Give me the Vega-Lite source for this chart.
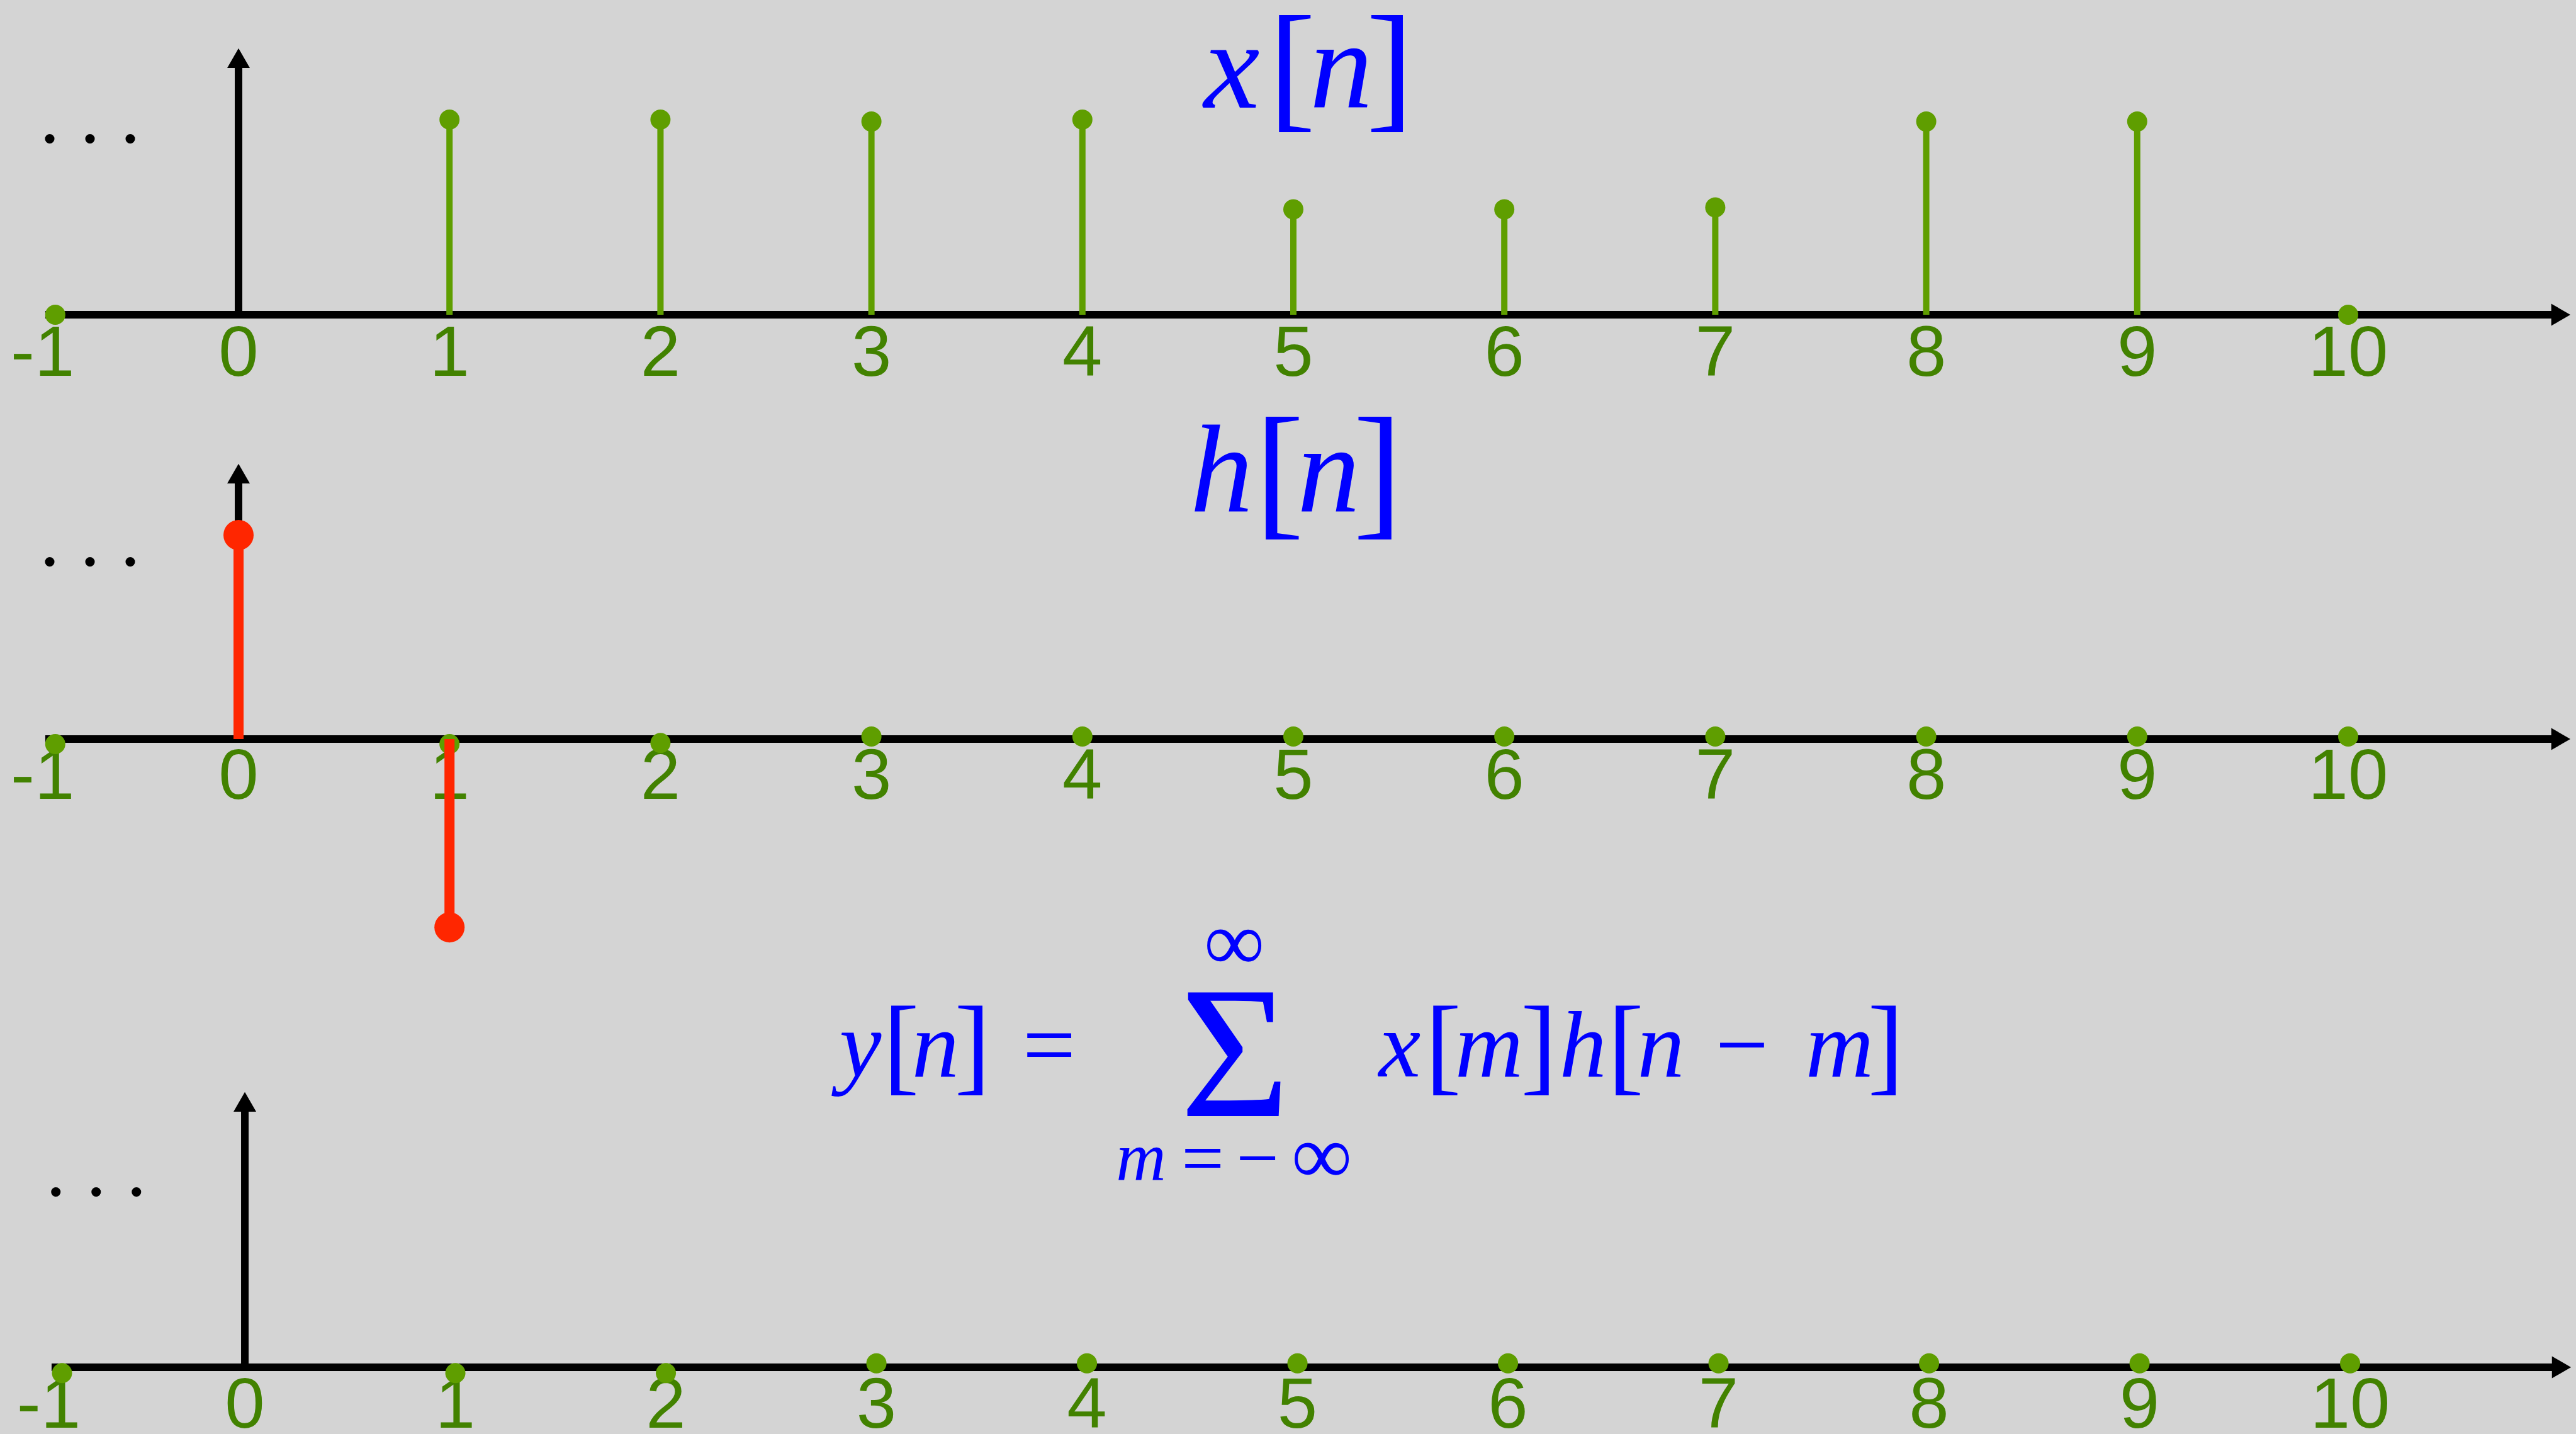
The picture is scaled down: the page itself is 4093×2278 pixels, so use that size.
{
  "$schema": "https://vega.github.io/schema/vega-lite/v6.json",
  "background": "#d4d4d4",
  "padding": 0,
  "spacing": 0,
  "bounds": "flush",
  "config": {"view": {"stroke": null}, "axis": {"disable": true}},
  "datasets": {
    "ticks": [
      {"n": -1, "lab": "-1"}, {"n": 0, "lab": "0"}, {"n": 1, "lab": "1"}, {"n": 2, "lab": "2"},
      {"n": 3, "lab": "3"}, {"n": 4, "lab": "4"}, {"n": 5, "lab": "5"}, {"n": 6, "lab": "6"},
      {"n": 7, "lab": "7"}, {"n": 8, "lab": "8"}, {"n": 9, "lab": "9"}, {"n": 10, "lab": "10"}
    ],
    "xs": [
      {"n": -1, "v": 0}, {"n": 1, "v": 1.0}, {"n": 2, "v": 1.0}, {"n": 3, "v": 0.99},
      {"n": 4, "v": 1.0}, {"n": 5, "v": 0.54}, {"n": 6, "v": 0.54}, {"n": 7, "v": 0.55},
      {"n": 8, "v": 0.99}, {"n": 9, "v": 0.99}, {"n": 10, "v": 0}
    ],
    "hs": [
      {"n": 0, "v": 1.045}, {"n": 1, "v": -0.965}
    ],
    "hzero": [
      {"n": -1, "v": -0.026}, {"n": 1, "v": -0.026}, {"n": 2, "v": -0.02}, {"n": 3, "v": 0.013},
      {"n": 4, "v": 0.013}, {"n": 5, "v": 0.013}, {"n": 6, "v": 0.013}, {"n": 7, "v": 0.013},
      {"n": 8, "v": 0.013}, {"n": 9, "v": 0.013}, {"n": 10, "v": 0.013}
    ],
    "ys": [
      {"n": -1, "v": -0.03}, {"n": 1, "v": -0.03}, {"n": 2, "v": -0.03}, {"n": 3, "v": 0.02},
      {"n": 4, "v": 0.02}, {"n": 5, "v": 0.02}, {"n": 6, "v": 0.02}, {"n": 7, "v": 0.02},
      {"n": 8, "v": 0.02}, {"n": 9, "v": 0.02}, {"n": 10, "v": 0.02}
    ]
  },
  "vconcat": [
    {
      "width": 4093,
      "height": 650,
      "data": {"values": [{}]},
      "layer": [
        {"mark": {"type": "rule", "color": "#000000", "strokeWidth": 12},
         "encoding": {
           "x": {"datum": -0.916, "type": "quantitative", "scale": {"domain": [-1.1307, 11.08], "nice": false, "zero": false}, "axis": null},
           "x2": {"datum": 11.008},
           "y": {"datum": 0, "type": "quantitative", "scale": {"domain": [-0.4839, 1.6129], "nice": false, "zero": false}, "axis": null}}},
        {"mark": {"type": "point", "shape": "triangle-right", "filled": true, "size": 1225, "color": "#000000", "opacity": 1, "strokeWidth": 0},
         "encoding": {"x": {"datum": 11.008, "axis": null}, "y": {"datum": 0, "axis": null}}},
        {"mark": {"type": "rule", "color": "#000000", "strokeWidth": 12},
         "encoding": {"x": {"datum": 0, "axis": null}, "y": {"datum": 0, "axis": null}, "y2": {"datum": 1.315}}},
        {"mark": {"type": "point", "shape": "triangle-up", "filled": true, "size": 1296, "color": "#000000", "opacity": 1, "strokeWidth": 0},
         "encoding": {"x": {"datum": 0, "axis": null}, "y": {"datum": 1.315, "axis": null}}},
        {"mark": {"type": "text", "text": ". . .", "font": "Liberation Serif", "fontSize": 128, "color": "#000000", "align": "center", "baseline": "alphabetic"},
         "encoding": {"x": {"datum": -0.704, "axis": null}, "y": {"datum": 0.884, "axis": null}}},
        {"data": {"name": "ticks"}, "transform": [{"filter": "datum.n >= 0"}],
         "mark": {"type": "text", "font": "Liberation Sans", "fontSize": 114, "color": "#428200", "align": "center", "baseline": "alphabetic"},
         "encoding": {"x": {"field": "n", "type": "quantitative", "axis": null}, "y": {"datum": -0.313, "axis": null}, "text": {"field": "lab"}}},
        {"data": {"name": "ticks"}, "transform": [{"filter": "datum.n < 0"}],
         "mark": {"type": "text", "font": "Liberation Sans", "fontSize": 114, "color": "#428200", "align": "center", "baseline": "alphabetic", "dx": 24},
         "encoding": {"x": {"field": "n", "type": "quantitative", "axis": null}, "y": {"datum": -0.313, "axis": null}, "text": {"field": "lab"}}},
        {"data": {"name": "xs"},
         "mark": {"type": "rule", "color": "#5f9e00", "strokeWidth": 10},
         "encoding": {"x": {"field": "n", "type": "quantitative", "axis": null}, "y": {"field": "v", "type": "quantitative", "axis": null}, "y2": {"datum": 0}}},
        {"data": {"name": "xs"}, "transform": [{"filter": "datum.n >= 0"}],
         "mark": {"type": "circle", "size": 1024, "color": "#5f9e00", "opacity": 1},
         "encoding": {"x": {"field": "n", "type": "quantitative", "axis": null}, "y": {"field": "v", "type": "quantitative", "axis": null}}},
        {"data": {"name": "xs"}, "transform": [{"filter": "datum.n < 0"}],
         "mark": {"type": "circle", "size": 1024, "color": "#5f9e00", "opacity": 1, "xOffset": 44},
         "encoding": {"x": {"field": "n", "type": "quantitative", "axis": null}, "y": {"field": "v", "type": "quantitative", "axis": null}}},
        {"mark": {"type": "text", "text": "x", "font": "Liberation Serif", "fontStyle": "italic", "fontSize": 200, "color": "#0000ff", "align": "center", "baseline": "alphabetic"},
         "encoding": {"x": {"datum": 4.708, "axis": null}, "y": {"datum": 1.061, "axis": null}}},
        {"mark": {"type": "text", "text": "[", "font": "Liberation Serif", "fontSize": 225, "color": "#0000ff", "align": "center", "baseline": "alphabetic"},
         "encoding": {"x": {"datum": 4.994, "axis": null}, "y": {"datum": 1.032, "axis": null}}},
        {"mark": {"type": "text", "text": "n", "font": "Liberation Serif", "fontStyle": "italic", "fontSize": 200, "color": "#0000ff", "align": "center", "baseline": "alphabetic"},
         "encoding": {"x": {"datum": 5.227, "axis": null}, "y": {"datum": 1.061, "axis": null}}},
        {"mark": {"type": "text", "text": "]", "font": "Liberation Serif", "fontSize": 225, "color": "#0000ff", "align": "center", "baseline": "alphabetic"},
         "encoding": {"x": {"datum": 5.457, "axis": null}, "y": {"datum": 1.032, "axis": null}}}
      ]
    },
    {
      "width": 4093,
      "height": 880,
      "data": {"values": [{}]},
      "layer": [
        {"mark": {"type": "rule", "color": "#000000", "strokeWidth": 12},
         "encoding": {
           "x": {"datum": -0.916, "type": "quantitative", "scale": {"domain": [-1.1307, 11.08], "nice": false, "zero": false}, "axis": null},
           "x2": {"datum": 11.008},
           "y": {"datum": 0, "type": "quantitative", "scale": {"domain": [-1.1484, 1.6903], "nice": false, "zero": false}, "axis": null}}},
        {"mark": {"type": "point", "shape": "triangle-right", "filled": true, "size": 1225, "color": "#000000", "opacity": 1, "strokeWidth": 0},
         "encoding": {"x": {"datum": 11.008, "axis": null}, "y": {"datum": 0, "axis": null}}},
        {"mark": {"type": "rule", "color": "#000000", "strokeWidth": 12},
         "encoding": {"x": {"datum": 0, "axis": null}, "y": {"datum": 0, "axis": null}, "y2": {"datum": 1.36}}},
        {"mark": {"type": "point", "shape": "triangle-up", "filled": true, "size": 1296, "color": "#000000", "opacity": 1, "strokeWidth": 0},
         "encoding": {"x": {"datum": 0, "axis": null}, "y": {"datum": 1.36, "axis": null}}},
        {"mark": {"type": "text", "text": ". . .", "font": "Liberation Serif", "fontSize": 128, "color": "#000000", "align": "center", "baseline": "alphabetic"},
         "encoding": {"x": {"datum": -0.704, "axis": null}, "y": {"datum": 0.89, "axis": null}}},
        {"data": {"name": "ticks"}, "transform": [{"filter": "datum.n >= 0"}],
         "mark": {"type": "text", "font": "Liberation Sans", "fontSize": 114, "color": "#428200", "align": "center", "baseline": "alphabetic"},
         "encoding": {"x": {"field": "n", "type": "quantitative", "axis": null}, "y": {"datum": -0.306, "axis": null}, "text": {"field": "lab"}}},
        {"data": {"name": "ticks"}, "transform": [{"filter": "datum.n < 0"}],
         "mark": {"type": "text", "font": "Liberation Sans", "fontSize": 114, "color": "#428200", "align": "center", "baseline": "alphabetic", "dx": 24},
         "encoding": {"x": {"field": "n", "type": "quantitative", "axis": null}, "y": {"datum": -0.306, "axis": null}, "text": {"field": "lab"}}},
        {"data": {"name": "hzero"}, "transform": [{"filter": "datum.n >= 0"}],
         "mark": {"type": "circle", "size": 1024, "color": "#5f9e00", "opacity": 1},
         "encoding": {"x": {"field": "n", "type": "quantitative", "axis": null}, "y": {"field": "v", "type": "quantitative", "axis": null}}},
        {"data": {"name": "hzero"}, "transform": [{"filter": "datum.n < 0"}],
         "mark": {"type": "circle", "size": 1024, "color": "#5f9e00", "opacity": 1, "xOffset": 44},
         "encoding": {"x": {"field": "n", "type": "quantitative", "axis": null}, "y": {"field": "v", "type": "quantitative", "axis": null}}},
        {"data": {"name": "hs"},
         "mark": {"type": "rule", "color": "#ff2600", "strokeWidth": 16},
         "encoding": {"x": {"field": "n", "type": "quantitative", "axis": null}, "y": {"field": "v", "type": "quantitative", "axis": null}, "y2": {"datum": 0}}},
        {"data": {"name": "hs"},
         "mark": {"type": "circle", "size": 2304, "color": "#ff2600", "opacity": 1},
         "encoding": {"x": {"field": "n", "type": "quantitative", "axis": null}, "y": {"field": "v", "type": "quantitative", "axis": null}}},
        {"mark": {"type": "text", "text": "h", "font": "Liberation Serif", "fontStyle": "italic", "fontSize": 200, "color": "#0000ff", "align": "center", "baseline": "alphabetic"},
         "encoding": {"x": {"datum": 4.66, "axis": null}, "y": {"datum": 1.165, "axis": null}}},
        {"mark": {"type": "text", "text": "[", "font": "Liberation Serif", "fontSize": 235, "color": "#0000ff", "align": "center", "baseline": "alphabetic"},
         "encoding": {"x": {"datum": 4.934, "axis": null}, "y": {"datum": 1.126, "axis": null}}},
        {"mark": {"type": "text", "text": "n", "font": "Liberation Serif", "fontStyle": "italic", "fontSize": 200, "color": "#0000ff", "align": "center", "baseline": "alphabetic"},
         "encoding": {"x": {"datum": 5.167, "axis": null}, "y": {"datum": 1.165, "axis": null}}},
        {"mark": {"type": "text", "text": "]", "font": "Liberation Serif", "fontSize": 235, "color": "#0000ff", "align": "center", "baseline": "alphabetic"},
         "encoding": {"x": {"datum": 5.4, "axis": null}, "y": {"datum": 1.126, "axis": null}}}
      ]
    },
    {
      "width": 4093,
      "height": 748,
      "data": {"values": [{}]},
      "layer": [
        {"mark": {"type": "rule", "color": "#000000", "strokeWidth": 12},
         "encoding": {
           "x": {"datum": -0.918, "type": "quantitative", "scale": {"domain": [-1.163, 11.073], "nice": false, "zero": false}, "axis": null},
           "x2": {"datum": 11.004},
           "y": {"datum": 0, "type": "quantitative", "scale": {"domain": [-0.3419, 2.071], "nice": false, "zero": false}, "axis": null}}},
        {"mark": {"type": "point", "shape": "triangle-right", "filled": true, "size": 1225, "color": "#000000", "opacity": 1, "strokeWidth": 0},
         "encoding": {"x": {"datum": 11.004, "axis": null}, "y": {"datum": 0, "axis": null}}},
        {"mark": {"type": "rule", "color": "#000000", "strokeWidth": 12},
         "encoding": {"x": {"datum": 0, "axis": null}, "y": {"datum": 0, "axis": null}, "y2": {"datum": 1.36}}},
        {"mark": {"type": "point", "shape": "triangle-up", "filled": true, "size": 1296, "color": "#000000", "opacity": 1, "strokeWidth": 0},
         "encoding": {"x": {"datum": 0, "axis": null}, "y": {"datum": 1.36, "axis": null}}},
        {"mark": {"type": "text", "text": ". . .", "font": "Liberation Serif", "fontSize": 128, "color": "#000000", "align": "center", "baseline": "alphabetic"},
         "encoding": {"x": {"datum": -0.706, "axis": null}, "y": {"datum": 0.881, "axis": null}}},
        {"data": {"name": "ticks"}, "transform": [{"filter": "datum.n >= 0"}],
         "mark": {"type": "text", "font": "Liberation Sans", "fontSize": 114, "color": "#428200", "align": "center", "baseline": "alphabetic"},
         "encoding": {"x": {"field": "n", "type": "quantitative", "axis": null}, "y": {"datum": -0.31, "axis": null}, "text": {"field": "lab"}}},
        {"data": {"name": "ticks"}, "transform": [{"filter": "datum.n < 0"}],
         "mark": {"type": "text", "font": "Liberation Sans", "fontSize": 114, "color": "#428200", "align": "center", "baseline": "alphabetic", "dx": 23},
         "encoding": {"x": {"field": "n", "type": "quantitative", "axis": null}, "y": {"datum": -0.31, "axis": null}, "text": {"field": "lab"}}},
        {"data": {"name": "ys"}, "transform": [{"filter": "datum.n >= 0"}],
         "mark": {"type": "circle", "size": 1024, "color": "#5f9e00", "opacity": 1},
         "encoding": {"x": {"field": "n", "type": "quantitative", "axis": null}, "y": {"field": "v", "type": "quantitative", "axis": null}}},
        {"data": {"name": "ys"}, "transform": [{"filter": "datum.n < 0"}],
         "mark": {"type": "circle", "size": 1024, "color": "#5f9e00", "opacity": 1, "xOffset": 44},
         "encoding": {"x": {"field": "n", "type": "quantitative", "axis": null}, "y": {"field": "v", "type": "quantitative", "axis": null}}},
        {"mark": {"type": "text", "text": "y", "font": "Liberation Serif", "fontStyle": "italic", "fontSize": 150, "color": "#0000ff", "align": "center", "baseline": "alphabetic"},
         "encoding": {"x": {"datum": 2.924, "axis": null}, "y": {"datum": 1.49, "axis": null}}},
        {"mark": {"type": "text", "text": "[", "font": "Liberation Serif", "fontSize": 172, "color": "#0000ff", "align": "center", "baseline": "alphabetic"},
         "encoding": {"x": {"datum": 3.118, "axis": null}, "y": {"datum": 1.468, "axis": null}}},
        {"mark": {"type": "text", "text": "n", "font": "Liberation Serif", "fontStyle": "italic", "fontSize": 150, "color": "#0000ff", "align": "center", "baseline": "alphabetic"},
         "encoding": {"x": {"datum": 3.28, "axis": null}, "y": {"datum": 1.49, "axis": null}}},
        {"mark": {"type": "text", "text": "]", "font": "Liberation Serif", "fontSize": 172, "color": "#0000ff", "align": "center", "baseline": "alphabetic"},
         "encoding": {"x": {"datum": 3.456, "axis": null}, "y": {"datum": 1.468, "axis": null}}},
        {"mark": {"type": "text", "text": "=", "font": "Liberation Serif", "fontSize": 150, "color": "#0000ff", "align": "center", "baseline": "alphabetic"},
         "encoding": {"x": {"datum": 3.821, "axis": null}, "y": {"datum": 1.49, "axis": null}}},
        {"mark": {"type": "text", "text": "Σ", "font": "Liberation Serif", "fontSize": 300, "color": "#0000ff", "align": "center", "baseline": "alphabetic"},
         "encoding": {"x": {"datum": 4.703, "axis": null}, "y": {"datum": 1.287, "axis": null}}},
        {"mark": {"type": "text", "text": "∞", "font": "Liberation Serif", "fontSize": 135, "color": "#0000ff", "align": "center", "baseline": "alphabetic"},
         "encoding": {"x": {"datum": 4.7, "axis": null}, "y": {"datum": 2.035, "axis": null}}},
        {"mark": {"type": "text", "text": "m", "font": "Liberation Serif", "fontStyle": "italic", "fontSize": 110, "color": "#0000ff", "align": "center", "baseline": "alphabetic"},
         "encoding": {"x": {"datum": 4.257, "axis": null}, "y": {"datum": 0.958, "axis": null}}},
        {"mark": {"type": "text", "text": "=", "font": "Liberation Serif", "fontSize": 120, "color": "#0000ff", "align": "center", "baseline": "alphabetic"},
         "encoding": {"x": {"datum": 4.55, "axis": null}, "y": {"datum": 0.942, "axis": null}}},
        {"mark": {"type": "text", "text": "−", "font": "Liberation Serif", "fontSize": 120, "color": "#0000ff", "align": "center", "baseline": "alphabetic"},
         "encoding": {"x": {"datum": 4.81, "axis": null}, "y": {"datum": 0.942, "axis": null}}},
        {"mark": {"type": "text", "text": "∞", "font": "Liberation Serif", "fontSize": 135, "color": "#0000ff", "align": "center", "baseline": "alphabetic"},
         "encoding": {"x": {"datum": 5.115, "axis": null}, "y": {"datum": 0.942, "axis": null}}},
        {"mark": {"type": "text", "text": "x", "font": "Liberation Serif", "fontStyle": "italic", "fontSize": 150, "color": "#0000ff", "align": "center", "baseline": "alphabetic"},
         "encoding": {"x": {"datum": 5.486, "axis": null}, "y": {"datum": 1.49, "axis": null}}},
        {"mark": {"type": "text", "text": "[", "font": "Liberation Serif", "fontSize": 172, "color": "#0000ff", "align": "center", "baseline": "alphabetic"},
         "encoding": {"x": {"datum": 5.692, "axis": null}, "y": {"datum": 1.468, "axis": null}}},
        {"mark": {"type": "text", "text": "m", "font": "Liberation Serif", "fontStyle": "italic", "fontSize": 150, "color": "#0000ff", "align": "center", "baseline": "alphabetic"},
         "encoding": {"x": {"datum": 5.91, "axis": null}, "y": {"datum": 1.49, "axis": null}}},
        {"mark": {"type": "text", "text": "]", "font": "Liberation Serif", "fontSize": 172, "color": "#0000ff", "align": "center", "baseline": "alphabetic"},
         "encoding": {"x": {"datum": 6.146, "axis": null}, "y": {"datum": 1.468, "axis": null}}},
        {"mark": {"type": "text", "text": "h", "font": "Liberation Serif", "fontStyle": "italic", "fontSize": 150, "color": "#0000ff", "align": "center", "baseline": "alphabetic"},
         "encoding": {"x": {"datum": 6.356, "axis": null}, "y": {"datum": 1.49, "axis": null}}},
        {"mark": {"type": "text", "text": "[", "font": "Liberation Serif", "fontSize": 172, "color": "#0000ff", "align": "center", "baseline": "alphabetic"},
         "encoding": {"x": {"datum": 6.559, "axis": null}, "y": {"datum": 1.468, "axis": null}}},
        {"mark": {"type": "text", "text": "n", "font": "Liberation Serif", "fontStyle": "italic", "fontSize": 150, "color": "#0000ff", "align": "center", "baseline": "alphabetic"},
         "encoding": {"x": {"datum": 6.726, "axis": null}, "y": {"datum": 1.49, "axis": null}}},
        {"mark": {"type": "text", "text": "−", "font": "Liberation Serif", "fontSize": 150, "color": "#0000ff", "align": "center", "baseline": "alphabetic"},
         "encoding": {"x": {"datum": 7.112, "axis": null}, "y": {"datum": 1.49, "axis": null}}},
        {"mark": {"type": "text", "text": "m", "font": "Liberation Serif", "fontStyle": "italic", "fontSize": 150, "color": "#0000ff", "align": "center", "baseline": "alphabetic"},
         "encoding": {"x": {"datum": 7.575, "axis": null}, "y": {"datum": 1.49, "axis": null}}},
        {"mark": {"type": "text", "text": "]", "font": "Liberation Serif", "fontSize": 172, "color": "#0000ff", "align": "center", "baseline": "alphabetic"},
         "encoding": {"x": {"datum": 7.794, "axis": null}, "y": {"datum": 1.468, "axis": null}}}
      ]
    }
  ]
}
